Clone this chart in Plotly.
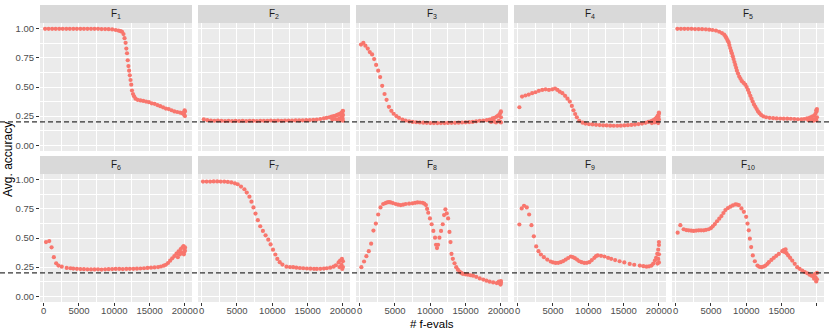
import plotly.graph_objects as go
from plotly.subplots import make_subplots

# avg. accuracy vs. number of function evaluations, one facet per function
F1 = [(200, 1.0), (700, 1.0), (1200, 1.0), (1700, 1.0), (2200, 1.0), (2700, 1.0), (3200, 1.0),
      (3700, 1.0), (4200, 1.0), (4700, 1.0), (5200, 1.0), (5700, 1.0), (6200, 1.0), (6700, 1.0),
      (7200, 1.0), (7700, 1.0), (8200, 0.998), (8700, 0.998), (9200, 0.997), (9700, 0.995),
      (10200, 0.99), (10600, 0.985), (10900, 0.98), (11100, 0.975), (11300, 0.955), (11450, 0.92),
      (11600, 0.88), (11700, 0.83), (11800, 0.79), (11900, 0.73), (12000, 0.68), (12100, 0.64),
      (12200, 0.60), (12300, 0.56), (12400, 0.52), (12500, 0.47), (12650, 0.44), (12800, 0.42),
      (13000, 0.40), (13300, 0.39), (13700, 0.385), (14100, 0.38), (14500, 0.375), (14900, 0.37),
      (15300, 0.36), (15700, 0.355), (16100, 0.345), (16500, 0.335), (16900, 0.325), (17300, 0.315),
      (17700, 0.31), (18100, 0.30), (18500, 0.29), (18900, 0.285), (19300, 0.28), (19600, 0.275),
      (19800, 0.27), (19900, 0.26), (20000, 0.25), (20000, 0.29), (19950, 0.30), (19850, 0.28)]

F2 = [(300, 0.222), (800, 0.215), (1300, 0.212), (1800, 0.21), (2300, 0.212), (2800, 0.21),
      (3300, 0.208), (3800, 0.21), (4300, 0.208), (4800, 0.21), (5300, 0.208), (5800, 0.21),
      (6300, 0.208), (6800, 0.21), (7300, 0.21), (7800, 0.208), (8300, 0.21), (8800, 0.21),
      (9300, 0.21), (9800, 0.212), (10300, 0.21), (10800, 0.212), (11300, 0.21), (11800, 0.212),
      (12300, 0.212), (12800, 0.212), (13300, 0.213), (13800, 0.213), (14300, 0.214), (14800, 0.215),
      (15300, 0.216), (15800, 0.218), (16300, 0.22), (16800, 0.225), (17300, 0.23), (17700, 0.235),
      (18100, 0.24), (18400, 0.245), (18700, 0.25), (19000, 0.255), (19200, 0.26), (19400, 0.265),
      (19600, 0.27), (19750, 0.275), (19850, 0.28), (19950, 0.29), (20000, 0.295), (18500, 0.22),
      (18900, 0.225), (19200, 0.22), (19500, 0.23), (19700, 0.215), (19800, 0.24), (19900, 0.25),
      (20000, 0.21), (20000, 0.26), (19950, 0.23), (19850, 0.255)]

F3 = [(190, 0.865), (520, 0.88), (810, 0.855), (1140, 0.83), (1430, 0.80), (1760, 0.78),
      (2050, 0.74), (2330, 0.69), (2620, 0.64), (2900, 0.585), (3190, 0.51), (3520, 0.44),
      (3810, 0.39), (4140, 0.33), (4480, 0.295), (4810, 0.27), (5190, 0.25), (5570, 0.235),
      (6050, 0.22), (6500, 0.212), (7000, 0.205), (7500, 0.2), (8000, 0.197), (8500, 0.195),
      (9000, 0.193), (9500, 0.192), (10000, 0.19), (10500, 0.19), (11000, 0.19), (11500, 0.19),
      (12000, 0.19), (12500, 0.191), (13000, 0.192), (13500, 0.192), (14000, 0.193), (14500, 0.195),
      (15000, 0.196), (15500, 0.198), (16000, 0.2), (16500, 0.205), (17000, 0.21), (17500, 0.212),
      (18000, 0.215), (18400, 0.22), (18800, 0.23), (19100, 0.235), (19400, 0.245), (19600, 0.255),
      (19800, 0.265), (19950, 0.28), (20000, 0.29), (18600, 0.2), (19000, 0.205), (19300, 0.195),
      (19700, 0.21), (19900, 0.2), (20000, 0.195), (20000, 0.24)]

F4 = [(240, 0.326), (620, 0.418), (1100, 0.427), (1570, 0.435), (2050, 0.447), (2520, 0.455),
      (3000, 0.467), (3480, 0.475), (3950, 0.48), (4430, 0.475), (4900, 0.48), (5290, 0.487),
      (5620, 0.475), (5950, 0.46), (6330, 0.447), (6710, 0.424), (7050, 0.40), (7380, 0.375),
      (7670, 0.337), (7900, 0.30), (8140, 0.268), (8380, 0.24), (8710, 0.21), (9190, 0.193),
      (9600, 0.186), (10100, 0.18), (10600, 0.178), (11100, 0.175), (11600, 0.173), (12100, 0.171),
      (12600, 0.17), (13100, 0.168), (13600, 0.167), (14100, 0.167), (14600, 0.168), (15100, 0.17),
      (15600, 0.172), (16100, 0.174), (16600, 0.177), (17100, 0.181), (17600, 0.186), (18100, 0.192),
      (18500, 0.2), (18900, 0.208), (19200, 0.216), (19500, 0.228), (19700, 0.24), (19850, 0.255),
      (20000, 0.27), (20000, 0.28), (19000, 0.19), (19400, 0.195), (19700, 0.2), (19900, 0.19),
      (20000, 0.22), (19950, 0.245)]

F5 = [(240, 1.0), (740, 1.0), (1240, 1.0), (1740, 1.0), (2240, 1.0), (2740, 0.998), (3240, 0.998),
      (3740, 0.997), (4270, 0.996), (4750, 0.993), (5210, 0.99), (5700, 0.985), (6160, 0.975),
      (6550, 0.963), (6870, 0.95), (7050, 0.935), (7200, 0.92), (7350, 0.90), (7490, 0.885),
      (7600, 0.86), (7720, 0.835), (7840, 0.81), (7960, 0.79), (8080, 0.765), (8200, 0.74),
      (8320, 0.715), (8440, 0.69), (8560, 0.665), (8670, 0.64), (8830, 0.615), (9000, 0.59),
      (9180, 0.57), (9380, 0.55), (9620, 0.535), (9860, 0.52), (10050, 0.50), (10240, 0.475),
      (10400, 0.45), (10570, 0.424), (10740, 0.40), (10900, 0.375), (11090, 0.35), (11280, 0.33),
      (11470, 0.31), (11660, 0.29), (11870, 0.275), (12090, 0.26), (12400, 0.248), (12800, 0.24),
      (13300, 0.235), (13800, 0.232), (14300, 0.23), (14800, 0.229), (15300, 0.228), (15800, 0.228),
      (16300, 0.227), (16800, 0.225), (17300, 0.223), (17800, 0.222), (18200, 0.225), (18600, 0.23),
      (19000, 0.238), (19300, 0.245), (19600, 0.255), (19800, 0.27), (19950, 0.29), (20000, 0.31),
      (18800, 0.215), (19200, 0.22), (19500, 0.21), (19700, 0.225), (19900, 0.215), (20000, 0.24),
      (19900, 0.3)]

F6 = [(330, 0.465), (790, 0.474), (1120, 0.42), (1440, 0.335), (1770, 0.283), (2090, 0.263),
      (2560, 0.254), (3260, 0.243), (3800, 0.24), (4190, 0.237), (4700, 0.235), (5200, 0.233),
      (5700, 0.232), (6200, 0.231), (6700, 0.23), (7200, 0.23), (7700, 0.231), (8200, 0.229),
      (8700, 0.231), (9200, 0.232), (9700, 0.233), (10200, 0.234), (10700, 0.234), (11200, 0.233),
      (11700, 0.234), (12200, 0.235), (12700, 0.235), (13200, 0.236), (13700, 0.238), (14200, 0.24),
      (14700, 0.243), (15200, 0.245), (15700, 0.247), (16200, 0.25), (16600, 0.255), (17000, 0.262),
      (17300, 0.27), (17600, 0.285), (17900, 0.305), (18200, 0.325), (18500, 0.345), (18800, 0.365),
      (19100, 0.385), (19400, 0.405), (19650, 0.42), (19800, 0.43), (19950, 0.41), (20000, 0.39),
      (19700, 0.37), (19850, 0.36), (19500, 0.375), (19300, 0.36), (19000, 0.335), (20000, 0.42),
      (19900, 0.38)]

F7 = [(190, 0.985), (700, 0.985), (1200, 0.985), (1700, 0.986), (2200, 0.986), (2700, 0.985),
      (3200, 0.985), (3700, 0.982), (4200, 0.978), (4700, 0.97), (5100, 0.962), (5570, 0.942),
      (6050, 0.919), (6380, 0.89), (6760, 0.855), (7050, 0.812), (7330, 0.763), (7620, 0.71),
      (7950, 0.653), (8290, 0.601), (8670, 0.561), (9050, 0.523), (9430, 0.486), (9760, 0.445),
      (10100, 0.40), (10430, 0.358), (10710, 0.32), (11050, 0.292), (11430, 0.272), (12000, 0.254),
      (12500, 0.25), (12950, 0.249), (13400, 0.245), (13900, 0.242), (14380, 0.24), (14900, 0.238),
      (15400, 0.236), (15900, 0.235), (16300, 0.234), (16800, 0.235), (17300, 0.237), (17710, 0.24),
      (18200, 0.245), (18670, 0.254), (19000, 0.265), (19380, 0.29), (19600, 0.305), (19860, 0.32),
      (20000, 0.3), (19800, 0.27), (20000, 0.25), (19500, 0.25), (19900, 0.234)]

F8 = [(240, 0.249), (620, 0.298), (950, 0.344), (1290, 0.387), (1620, 0.451), (1950, 0.564),
      (2290, 0.624), (2620, 0.702), (2950, 0.763), (3330, 0.792), (3650, 0.80), (3900, 0.806),
      (4150, 0.808), (4380, 0.806), (4700, 0.80), (5100, 0.792), (5450, 0.786), (5810, 0.783),
      (6150, 0.786), (6520, 0.792), (7000, 0.795), (7480, 0.798), (7850, 0.802), (8190, 0.806),
      (8550, 0.805), (8900, 0.803), (9150, 0.795), (9380, 0.783), (9550, 0.75), (9710, 0.717),
      (9950, 0.668), (10190, 0.618), (10430, 0.561), (10670, 0.503), (10810, 0.442), (10950, 0.413),
      (11100, 0.442), (11290, 0.503), (11520, 0.561), (11760, 0.618), (11950, 0.697), (12140, 0.746),
      (12330, 0.711), (12520, 0.668), (12710, 0.552), (12860, 0.465), (13000, 0.364), (13190, 0.321),
      (13430, 0.283), (13670, 0.249), (13900, 0.228), (14140, 0.211), (14380, 0.2), (14620, 0.191),
      (15000, 0.188), (15330, 0.185), (15700, 0.18), (16050, 0.176), (16500, 0.166), (17000, 0.153),
      (17500, 0.143), (17950, 0.133), (18400, 0.125), (18900, 0.118), (19400, 0.113), (19860, 0.11),
      (20000, 0.13), (19950, 0.1), (19700, 0.125), (20000, 0.115)]

F9 = [(240, 0.616), (570, 0.754), (900, 0.777), (1290, 0.763), (1620, 0.702), (1950, 0.61),
      (2290, 0.514), (2620, 0.428), (2950, 0.387), (3290, 0.358), (3710, 0.335), (4190, 0.315),
      (4670, 0.298), (5000, 0.29), (5380, 0.286), (5750, 0.287), (6100, 0.292), (6450, 0.302),
      (6810, 0.315), (7150, 0.328), (7520, 0.341), (7800, 0.336), (8100, 0.327), (8400, 0.315),
      (8710, 0.30), (9050, 0.292), (9430, 0.286), (9800, 0.287), (10140, 0.292), (10500, 0.31),
      (10860, 0.33), (11100, 0.345), (11330, 0.35), (11800, 0.347), (12290, 0.341), (12800, 0.33),
      (13240, 0.321), (13800, 0.31), (14430, 0.30), (15100, 0.29), (15860, 0.277), (16500, 0.27),
      (17290, 0.263), (17800, 0.258), (18240, 0.254), (18600, 0.257), (18950, 0.263), (19200, 0.28),
      (19430, 0.306), (19600, 0.33), (19760, 0.364), (19900, 0.4), (20000, 0.44), (20000, 0.465),
      (20000, 0.29), (19900, 0.32), (20000, 0.36), (19800, 0.28)]

F10 = [(280, 0.546), (660, 0.61), (1130, 0.575), (1500, 0.568), (1840, 0.566), (2200, 0.563),
       (2550, 0.561), (2900, 0.564), (3260, 0.566), (3600, 0.566), (3970, 0.566), (4300, 0.57),
       (4680, 0.575), (5000, 0.585), (5250, 0.60), (5550, 0.62), (5860, 0.644), (6170, 0.666),
       (6480, 0.688), (6760, 0.715), (7040, 0.74), (7400, 0.757), (7750, 0.769), (8100, 0.78),
       (8460, 0.789), (8700, 0.787), (8940, 0.783), (9310, 0.754), (9650, 0.725), (9980, 0.682),
       (10170, 0.624), (10350, 0.566), (10500, 0.494), (10690, 0.422), (10920, 0.35), (11210, 0.30),
       (11580, 0.263), (11850, 0.252), (12150, 0.249), (12450, 0.255), (12720, 0.263), (13000, 0.278),
       (13190, 0.292), (13550, 0.312), (13900, 0.33), (14250, 0.347), (14610, 0.364), (15090, 0.387),
       (15300, 0.395), (15560, 0.402), (15400, 0.38), (15700, 0.37), (15930, 0.35), (16200, 0.33),
       (16500, 0.306), (16850, 0.278), (17210, 0.249), (17550, 0.235), (17920, 0.22), (18280, 0.208),
       (18630, 0.197), (18950, 0.185), (19240, 0.176), (19500, 0.17), (19810, 0.162), (20000, 0.2),
       (19900, 0.127), (20000, 0.145), (19700, 0.19), (19600, 0.15)]

PANELS = [F1, F2, F3, F4, F5, F6, F7, F8, F9, F10]
LABELS = [f"F<sub>{i}</sub>" for i in range(1, 11)]
BASELINE = 0.2

X_TICKS = [0, 5000, 10000, 15000, 20000]
X_MINOR = [2500, 7500, 12500, 17500]
Y_TICKS = [0, 0.25, 0.5, 0.75, 1.0]
Y_MINOR = [0.125, 0.375, 0.625, 0.875]

W, H = 830, 332
POINT_COLOR = "#F8766D"
FONT = "Liberation Sans, Arial, sans-serif"

fig = make_subplots(rows=2, cols=5)

# pixel layout of the ggplot-style facet grid
ROW_PLOT = [(23, 151), (174, 302)]
ROW_STRIP = [(5, 23), (156, 174)]

for i, pts in enumerate(PANELS):
    r, c = i // 5, i % 5
    fig.add_trace(go.Scatter(
        x=[p[0] for p in pts], y=[p[1] for p in pts], mode="markers",
        marker=dict(color=POINT_COLOR, size=4.2, line=dict(width=0)),
        showlegend=False, hoverinfo="x+y"), row=r + 1, col=c + 1)

    x0, x1 = 40 + c * 158, 192 + c * 158
    top, bot = ROW_PLOT[r]
    xdom = [x0 / W, x1 / W]
    ydom = [1 - bot / H, 1 - top / H]
    n = "" if i == 0 else str(i + 1)
    bottom_row = r == 1
    left_col = c == 0
    fig.layout["xaxis" + n].update(
        domain=xdom, range=[-520, 21000], tickvals=X_TICKS, tickformat="d",
        showticklabels=bottom_row, ticks="outside" if bottom_row else "",
        ticklen=3, tickcolor="#333333", tickwidth=1, ticklabelstandoff=-3,
        tickfont=dict(size=9.5, color="#4D4D4D", family=FONT),
        showgrid=True, gridcolor="white", gridwidth=1.1, zeroline=False, showline=False,
        minor=dict(tickvals=X_MINOR, showgrid=True, gridcolor="white", gridwidth=0.5),
        automargin=False)
    fig.layout["yaxis" + n].update(
        domain=ydom, range=[-0.05, 1.05], tickvals=Y_TICKS, tickformat=".2f",
        showticklabels=left_col, ticks="outside" if left_col else "",
        ticklen=3, tickcolor="#333333", tickwidth=1,
        tickfont=dict(size=9.5, color="#4D4D4D", family=FONT),
        showgrid=True, gridcolor="white", gridwidth=1.1, zeroline=False, showline=False,
        minor=dict(tickvals=Y_MINOR, showgrid=True, gridcolor="white", gridwidth=0.5),
        automargin=False)

    s_top, s_bot = ROW_STRIP[r]
    fig.add_shape(type="rect", xref="paper", yref="paper",
                  x0=xdom[0], x1=xdom[1], y0=1 - s_bot / H, y1=1 - s_top / H,
                  fillcolor="#D9D9D9", line=dict(width=0), layer="below")
    fig.add_annotation(x=(xdom[0] + xdom[1]) / 2, y=1 - (s_top + s_bot) / 2 / H,
                       xref="paper", yref="paper", text=LABELS[i], showarrow=False,
                       xanchor="center", yanchor="middle",
                       font=dict(size=10, color="#1A1A1A", family=FONT))

# dashed reference line spanning each row
for yref in ["y", "y6"]:
    fig.add_shape(type="line", xref="paper", yref=yref, x0=0, x1=1,
                  y0=BASELINE, y1=BASELINE,
                  line=dict(color="black", width=1, dash="5px,3px"))

fig.add_annotation(x=432 / W, y=1 - 324 / H, xref="paper", yref="paper",
                   text="# f-evals", showarrow=False, xanchor="center", yanchor="middle",
                   font=dict(size=11.5, color="black", family=FONT))
fig.add_annotation(x=8 / W, y=1 - 160 / H, xref="paper", yref="paper",
                   text="Avg. accuracy", showarrow=False, textangle=-90,
                   xanchor="center", yanchor="middle",
                   font=dict(size=12, color="black", family=FONT))

fig.update_layout(
    template="none", width=W, height=H,
    margin=dict(l=0, r=0, t=0, b=0),
    plot_bgcolor="#EBEBEB", paper_bgcolor="white",
    font=dict(family=FONT),
)

fig.write_html("out.html", config={"displayModeBar": False},
               post_script="document.body.style.margin='0';")
